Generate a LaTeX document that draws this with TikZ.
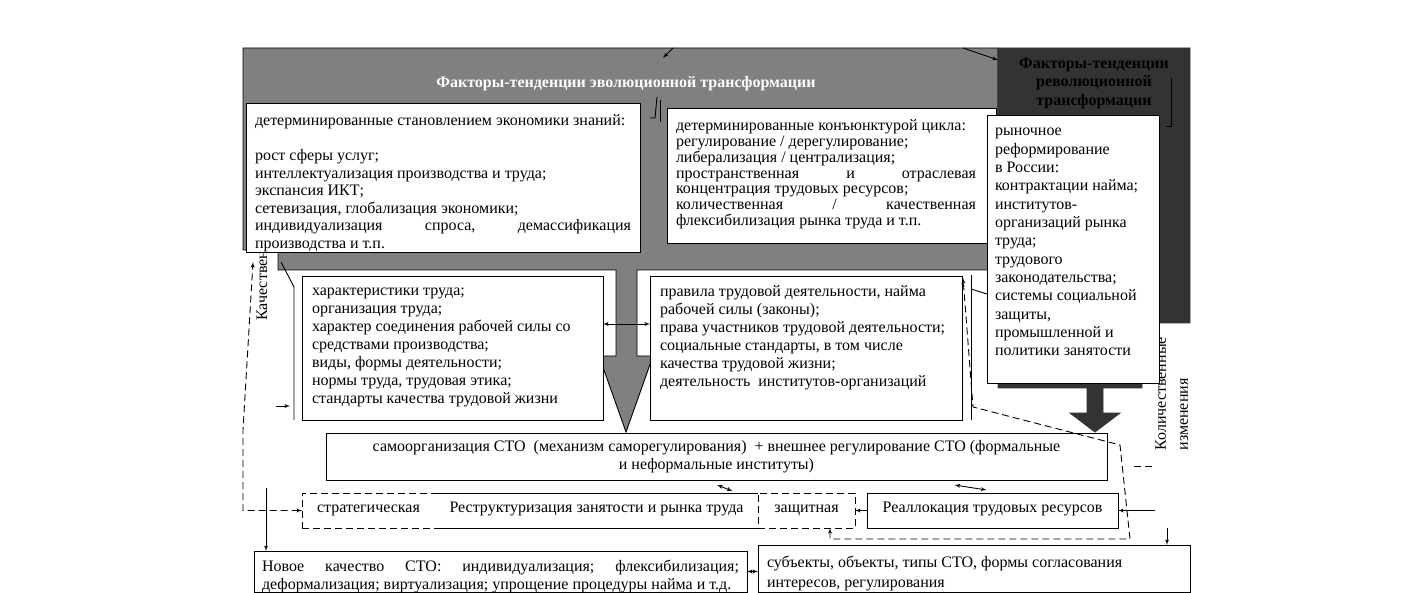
\documentclass[tikz,border=0pt]{standalone}
\usepackage{fontspec}
\setmainfont{Liberation Serif}
\usepackage{tikz}
\usetikzlibrary{arrows,calc}
\definecolor{evogray}{HTML}{808080}
\definecolor{revgray}{HTML}{333333}
\newcommand{\boxtext}[4]{\parbox[c][#2][t]{#1}{\fontsize{16pt}{#3}\selectfont\strut #4}}

\begin{document}
\begin{tikzpicture}[x=1pt,y=-1pt,>=latex',line width=0.9pt,
  cell/.style={draw,fill=white,anchor=north west,inner sep=0pt,outer sep=0pt,font=\fontsize{16pt}{18pt}\selectfont},
  scell/.style={cell,minimum height=35pt,text height=9pt,text depth=5pt},
  dcell/.style={scell,dash pattern=on 7pt off 4pt},
  dline/.style={dash pattern=on 7pt off 4pt}]
\useasboundingbox (0,0) rectangle (1416,593);

\draw[fill=evogray] (243,48) -- (998,48) -- (998,270) -- (637,270) -- (637,356) -- (653,356) -- (626,432) -- (599,356) -- (616,356) -- (616,270) -- (278,270) -- (278,250) -- (243,250) -- cycle;
\draw[revgray,fill=revgray] (998,48) -- (1190,48) -- (1190,323) -- (1142,323) -- (1142,388) -- (1103,388) -- (1103,413) -- (1120,413) -- (1095,432) -- (1070,413) -- (1087,413) -- (1087,388) -- (998,388) -- cycle;

\node[font=\fontsize{16pt}{18pt}\selectfont\bfseries,text=white] (evo) at (626,84) {Факторы-тенденции эволюционной трансформации};
\node[font=\fontsize{16pt}{18.5pt}\selectfont\bfseries,align=center] (rev) at (1094,83) {Факторы-тенденции\\революционной\\трансформации};
\node[rotate=90,anchor=west,inner sep=0pt,font=\fontsize{16pt}{18pt}\selectfont] (qual) at (262,321) {Качественные изменения};
\node[rotate=90,anchor=north west,align=left,inner sep=0pt,font=\fontsize{16pt}{22pt}\selectfont] (quant) at (1155,451) {Количественные\\изменения};

\draw (650,118) -- (655,118) -- (657,97);
\draw (660,100) -- (660,122);
\draw (1166,126) -- (1171,126) -- (1171,78);
\draw (281,262) -- (294,287) -- (294,420);
\draw (971,275) -- (971,420);
\draw (971,289) -- (987,294);

\node[cell,inner xsep=9pt,inner ysep=10.5pt] (know) at (246,103) {\boxtext{376pt}{128pt}{17.5pt}{детерминированные становлением экономики знаний:\\[17.5pt]
рост сферы услуг;\\
интеллектуализация производства и труда;\\
экспансия ИКТ;\\
сетевизация, глобализация экономики;\\
индивидуализация\hfill спроса,\hfill демассификация\\
производства и т.п.}};
\node[cell,inner xsep=9pt,inner ysep=12pt] (cycle) at (667,108) {\boxtext{311pt}{111pt}{15.7pt}{\rightskip=11pt\relax детерминированные конъюнктурой цикла:\\
регулирование / дерегулирование;\\
либерализация / централизация;\\
пространственная\hfill и\hfill отраслевая\\
концентрация трудовых ресурсов;\\
количественная\hfill /\hfill качественная\\
флексибилизация рынка труда и т.п.}};
\node[cell,inner xsep=8pt,inner ysep=8pt] (russia) at (987,115) {\boxtext{156pt}{252pt}{18.33pt}{рыночное\\
реформирование\\
в России:\\
контрактации найма;\\
институтов-\\
организаций рынка\\
труда;\\
трудового\\
законодательства;\\
системы социальной\\
защиты,\\
промышленной и\\
политики занятости}};
\node[cell,inner xsep=10pt,inner ysep=7.4pt] (labour) at (302,276) {\boxtext{281pt}{129.2pt}{18pt}{характеристики труда;\\
организация труда;\\
характер соединения рабочей силы со\\
средствами производства;\\
виды, формы деятельности;\\
нормы труда, трудовая этика;\\
стандарты качества трудовой жизни}};
\node[cell,inner xsep=10pt,inner ysep=8.4pt] (rules) at (650,276) {\boxtext{292pt}{127.2pt}{18pt}{правила трудовой деятельности, найма\\
рабочей силы (законы);\\
права участников трудовой деятельности;\\
социальные стандарты, в том числе\\
качества трудовой жизни;\\
деятельность~ институтов-организаций}};
\node[cell,inner xsep=10pt,inner ysep=5.4pt] (selforg) at (326,433) {\boxtext{761pt}{36.2pt}{18pt}{\centering самоорганизация СТО~ (механизм саморегулирования)~ + внешнее регулирование СТО (формальные\\
и неформальные институты)}};
\node[dcell,minimum width=133pt] (strat) at (302,493) {стратегическая};
\node[scell,draw=none,minimum width=323pt] (restr) at (435,493) {Реструктуризация занятости и рынка труда};
\node[dcell,minimum width=97pt] (prot) at (758,493) {защитная};
\node[scell,minimum width=251pt] (realloc) at (867,493) {Реаллокация трудовых ресурсов};
\draw (strat.north east) -- (prot.north west);
\draw (strat.south east) -- (prot.south west);
\node[cell,inner xsep=8pt,inner ysep=7.4pt] (newq) at (254,551) {\boxtext{477pt}{26.2pt}{18pt}{Новое\hfill качество\hfill СТО:\hfill индивидуализация;\hfill флексибилизация;\\
деформализация; виртуализация; упрощение процедуры найма и т.д.}};
\node[cell,inner xsep=9pt,inner ysep=8pt] (subj) at (758,545) {\boxtext{414pt}{31pt}{20pt}{субъекты, объекты, типы СТО, формы согласования\\
интересов, регулирования}};

\coordinate (t1) at (673,48);
\coordinate (t2) at (963,48);
\coordinate (nq) at (266,488);
\coordinate (sq) at (276,406);
\coordinate (rq) at (1155,510.5);
\coordinate (dq) at (1152,466);
\coordinate (lq) at (1167,528);
\draw[->] (t1) -- ++(-10,10);
\draw[->] (t2) -- ++(35,12);
\draw[<->] ([yshift=24pt]labour.east) -- ([yshift=24pt]rules.west);
\draw[dline,<->] (strat.west) -- (243,510.5) -- (243,430) -- (253,262);
\draw[->] (nq) -- (nq |- newq.north);
\draw[->] (sq) -- ++(14,0);
\draw[<->] ($(selforg.south)+(0.5,5)$) -- ($(restr.north)+(136,-2)$);
\draw[<->] ($(selforg.south)+(238,5)$) -- ($(realloc.north)+(-6,-3)$);
\draw[->] (realloc.west) -- (prot.east);
\draw[->] (rq) -- (realloc.east);
\draw[dline,<->] ($(prot.south)+(23.5,0)$) -- ++(0,11) -- (1130,539) -- (1120,445) -- (973,407) -- ($(rules.north east)+(1,2)$);
\draw[dline] (dq) -- ++(-22,0);
\draw[<->] (newq.east) -- (newq.east -| subj.west);
\draw[->] (lq) -- (lq |- subj.north);
\end{tikzpicture}
\end{document}
